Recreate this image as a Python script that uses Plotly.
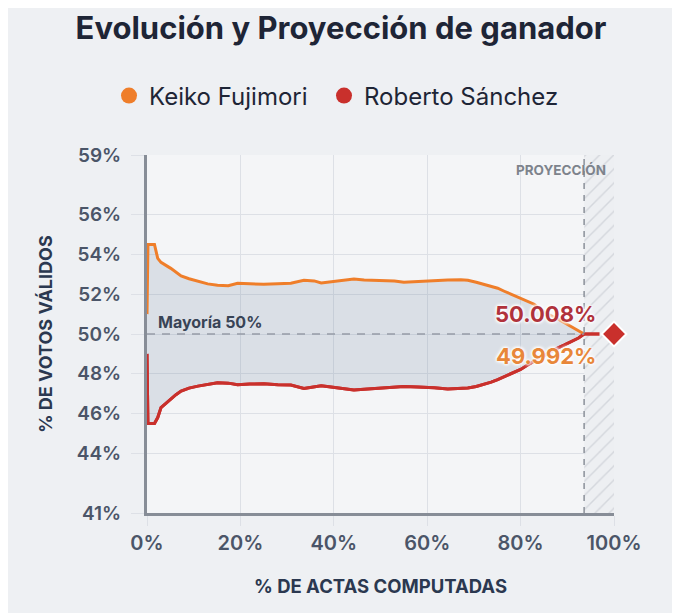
import plotly.graph_objects as go

# ---------------- data ----------------
actas = [0, 0.2, 1.6, 2.3, 3.0, 3.7, 4.4, 5.1, 6.2, 7.3, 9.0, 10.9, 13.0, 15.1, 17.4, 19.4,
         22.0, 25.0, 28.0, 30.8, 33.6, 35.8, 37.3, 39.4, 42.0, 44.3, 46.5, 48.7, 51.0, 53.0,
         55.0, 58.0, 61.5, 64.4, 67.2, 68.7, 70.5, 72.2, 73.7, 75.1, 76.5, 77.9, 78.7, 80.0,
         81.5, 82.9, 84.4, 86.0, 87.8, 89.4, 91.0, 92.4, 93.6]

keiko = [51.0, 54.5, 54.5, 53.8, 53.6, 53.48, 53.4, 53.3, 53.1, 52.92, 52.78, 52.65, 52.52,
         52.45, 52.43, 52.55, 52.53, 52.5, 52.53, 52.55, 52.7, 52.67, 52.57, 52.62, 52.72,
         52.77, 52.72, 52.7, 52.68, 52.67, 52.6, 52.65, 52.7, 52.72, 52.73, 52.7, 52.6, 52.5,
         52.42, 52.3, 52.15, 52.0, 51.92, 51.8, 51.62, 51.5, 51.2, 50.98, 50.78, 50.57, 50.35,
         50.17, 50.0]

sanchez = [49.0, 45.5, 45.5, 45.8, 46.3, 46.45, 46.55, 46.7, 46.95, 47.13, 47.28, 47.38,
           47.48, 47.55, 47.53, 47.45, 47.48, 47.5, 47.45, 47.43, 47.26, 47.35, 47.4, 47.33,
           47.25, 47.19, 47.22, 47.26, 47.3, 47.33, 47.36, 47.33, 47.3, 47.23, 47.27, 47.29,
           47.36, 47.46, 47.58, 47.71, 47.85, 47.98, 48.05, 48.22, 48.44, 48.62, 48.85, 49.05,
           49.28, 49.45, 49.62, 49.8, 50.0]

proyeccion_inicio = 93.6
proyeccion_x = [93.6, 96.9]
proyeccion_y = [50.0, 50.0]
ganador_x = [100]
ganador_y = [50.0]

final_sanchez = "50.008%"
final_keiko = "49.992%"
mayoria = 50

y_ticks = [41, 44, 46, 48, 50, 52, 54, 56, 59]
y_labels = [f"{v}%" for v in y_ticks]
x_ticks = [0, 20, 40, 60, 80, 100]
x_labels = [f"{v}%" for v in x_ticks]
y_range = [41, 59]
x_range = [0, 100]

# ---------------- style ----------------
ORANGE = "#ef7e2a"
RED = "#c9302c"
DARK = "#1e2536"
NAVY = "#2b3850"
TICK = "#4b5568"
GRID = "#dde0e6"
AXIS = "#878d97"
FONT = "Inter"
W, H = 680, 613
OFF = 7  # page offset compensation

fig = go.Figure()

# projection hatched zone
fig.add_trace(go.Scatter(
    x=[proyeccion_inicio, x_range[1], x_range[1], proyeccion_inicio],
    y=[y_range[0], y_range[0], y_range[1], y_range[1]],
    fill="toself", mode="none", fillcolor="#edeff2",
    fillpattern=dict(shape="/", fgcolor="#bcc0c8", size=10, solidity=0.15, fillmode="overlay"),
    showlegend=False, hoverinfo="skip"))

# red line (base for fill)
fig.add_trace(go.Scatter(
    x=actas, y=sanchez, mode="lines", line=dict(color=RED, width=3),
    showlegend=False, name="Roberto Sánchez"))
# orange line with fill to red
fig.add_trace(go.Scatter(
    x=actas, y=keiko, mode="lines", line=dict(color=ORANGE, width=3),
    fill="tonexty", fillcolor="rgba(105,125,160,0.19)",
    showlegend=False, name="Keiko Fujimori"))
# redraw red on top
fig.add_trace(go.Scatter(
    x=actas, y=sanchez, mode="lines", line=dict(color=RED, width=3),
    showlegend=False, name="Roberto Sánchez"))

# projection segment
fig.add_trace(go.Scatter(
    x=proyeccion_x, y=proyeccion_y, mode="lines", line=dict(color=RED, width=3.5),
    showlegend=False))
# winner diamond
fig.add_trace(go.Scatter(
    x=ganador_x, y=ganador_y, mode="markers",
    marker=dict(symbol="diamond", size=19, color=RED, line=dict(color="white", width=2)),
    showlegend=False, cliponaxis=False))

# legend entries (one legend each, to match spacing)
fig.add_trace(go.Scatter(x=[None], y=[None], mode="markers", name="Keiko Fujimori",
                         marker=dict(color=ORANGE, size=20), legend="legend"))
fig.add_trace(go.Scatter(x=[None], y=[None], mode="markers", name="Roberto Sánchez",
                         marker=dict(color=RED, size=20), legend="legend2"))

# majority dashed line
fig.add_shape(type="line", xref="x", yref="y", x0=x_range[0], x1=proyeccion_inicio,
              y0=mayoria, y1=mayoria, line=dict(color="#979ca6", width=1.5, dash="8px,7px"),
              layer="above")
# projection dashed vertical line
fig.add_shape(type="line", xref="x", yref="y", x0=proyeccion_inicio, x1=proyeccion_inicio,
              y0=y_range[0], y1=y_range[1], line=dict(color="#8b9099", width=1.5, dash="6px,6px"),
              layer="above")

halo = "0 0 3px #fff, 0 0 3px #fff, 0 0 4px #fff, 0 0 4px #fff"
fig.add_annotation(x=1.9, y=50.6, xref="x", yref="y", text="Mayoría 50%", showarrow=False,
                   xanchor="left", yanchor="middle",
                   font=dict(family=FONT, size=16, color="#394456", weight=700))
fig.add_annotation(x=98.7, y=58.27, xref="x", yref="y", text="PROYECCIÓN", showarrow=False,
                   xanchor="right", yanchor="middle",
                   font=dict(family=FONT, size=13.5, color="#7d838c", weight=700))
fig.add_annotation(x=96.6, y=51.0, xref="x", yref="y", text=final_sanchez, showarrow=False,
                   xanchor="right", yanchor="middle",
                   font=dict(family=FONT, size=22, color="#b0323b", weight=700, shadow=halo))
fig.add_annotation(x=96.6, y=48.9, xref="x", yref="y", text=final_keiko, showarrow=False,
                   xanchor="right", yanchor="middle",
                   font=dict(family=FONT, size=22, color="#e8873a", weight=700, shadow=halo))

legend_common = dict(orientation="h", xref="container", yref="container", xanchor="left",
                     y=1 - (95 - OFF) / H, yanchor="middle",
                     font=dict(family=FONT, size=24, color=DARK),
                     bgcolor="rgba(0,0,0,0)", itemwidth=30)

fig.update_layout(
    width=W, height=H,
    margin=dict(l=146 - OFF, r=67 + OFF, t=154 - OFF, b=101 + OFF),
    paper_bgcolor="#eef0f3",
    plot_bgcolor="#f4f5f7",
    font=dict(family=FONT, color=DARK),
    title=dict(text="Evolución y Proyección de ganador", x=(340 - OFF) / W, xanchor="center",
               xref="container", y=1 - (27 - OFF) / H, yref="container", yanchor="middle",
               font=dict(family=FONT, size=31, color=DARK, weight=700)),
    legend=dict(x=(108 - OFF) / W, **legend_common),
    legend2=dict(x=(323 - OFF) / W, **legend_common),
    showlegend=True,
    hovermode=False,
)

fig.update_xaxes(
    range=x_range, tickvals=x_ticks, ticktext=x_labels,
    showgrid=True, gridcolor=GRID, gridwidth=1, zeroline=False,
    showline=True, linecolor=AXIS, linewidth=3,
    ticks="outside", ticklen=10, tickcolor=GRID, tickwidth=1,
    tickfont=dict(family=FONT, size=20, color=TICK, weight=600),
    title=dict(text="% DE ACTAS COMPUTADAS", standoff=27,
               font=dict(family=FONT, size=18.5, color=NAVY, weight=700)),
)
fig.update_yaxes(
    range=y_range, tickvals=y_ticks, ticktext=y_labels,
    showgrid=True, gridcolor=GRID, gridwidth=1, zeroline=False,
    showline=True, linecolor=AXIS, linewidth=3,
    ticks="outside", ticklen=13, tickcolor=GRID, tickwidth=1,
    ticklabelstandoff=6,
    tickfont=dict(family=FONT, size=19, color=TICK, weight=600),
    title=dict(text="% DE VOTOS VÁLIDOS", standoff=20,
               font=dict(family=FONT, size=18, color=NAVY, weight=700)),
)

fig.write_html("out.html")
